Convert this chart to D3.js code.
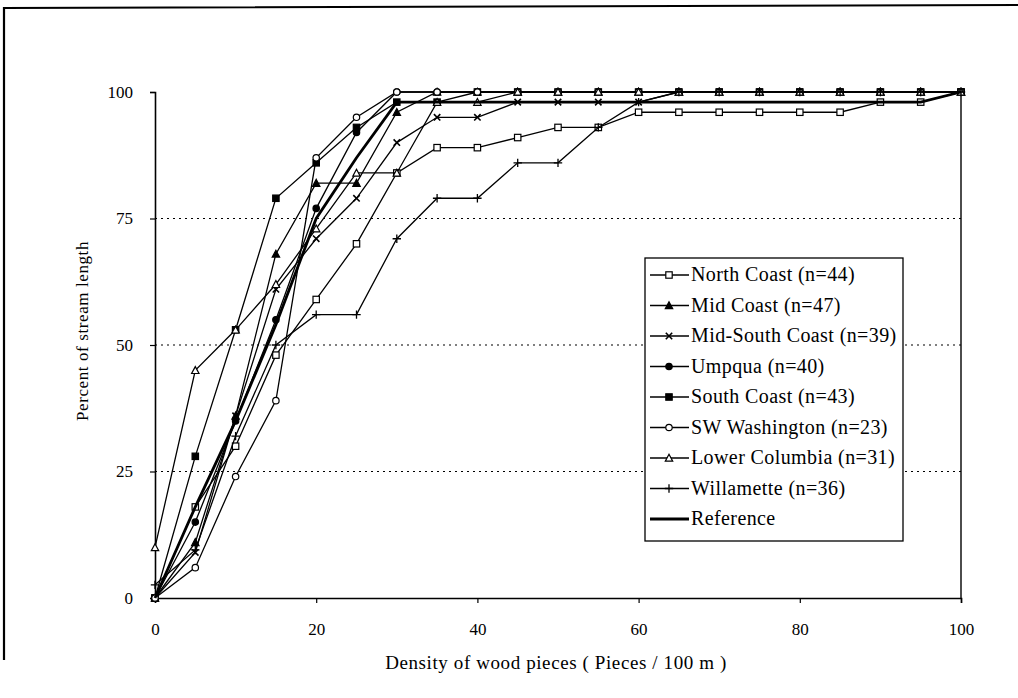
<!DOCTYPE html>
<html>
<head>
<meta charset="utf-8">
<script src="https://cdn.jsdelivr.net/npm/d3@7"></script>
<style>
  body { margin: 0; background: #fff; }
  svg { display: block; }
  text { font-family: "Liberation Serif", "DejaVu Serif", serif; }
</style>
</head>
<body>
<div id="chart"></div>
<script>
// density classes (pieces / 100 m)
const density = [0, 5, 10, 15, 20, 25, 30, 35, 40, 45, 50, 55, 60, 65, 70, 75, 80, 85, 90, 95, 100]

// cumulative percent of stream length
const northCoast    = [0, 18, 30, 48, 59, 70, 84, 89, 89, 91, 93, 93, 96, 96, 96, 96, 96, 96, 98, 98, 100]
const midCoast      = [0, 11, 36, 68, 82, 82, 96, 100, 100, 100, 100, 100, 100, 100, 100, 100, 100, 100, 100, 100, 100]
const midSouthCoast = [0, 9, 36, 61, 71, 79, 90, 95, 95, 98, 98, 98, 98, 100, 100, 100, 100, 100, 100, 100, 100]
const umpqua        = [0, 15, 35, 55, 77, 92, 100, 100, 100, 100, 100, 100, 100, 100, 100, 100, 100, 100, 100, 100, 100]
const southCoast    = [0, 28, 53, 79, 86, 93, 98, 98, 100, 100, 100, 100, 100, 100, 100, 100, 100, 100, 100, 100, 100]
const swWashington  = [0, 6, 24, 39, 87, 95, 100, 100, 100, 100, 100, 100, 100, 100, 100, 100, 100, 100, 100, 100, 100]
const lowerColumbia = [10, 45, 53, 62, 73, 84, 84, 98, 98, 100, 100, 100, 100, 100, 100, 100, 100, 100, 100, 100, 100]
const willamette    = [2.6, 9.5, 32, 50, 56, 56, 71, 79, 79, 86, 86, 93, 98, 100, 100, 100, 100, 100, 100, 100, 100]
const reference     = [0, 18, 35, 54, 75, 87, 98, 98, 98, 98, 98, 98, 98, 98, 98, 98, 98, 98, 98, 98, 100]

const seriesNames = ['North Coast (n=44)', 'Mid Coast (n=47)', 'Mid-South Coast (n=39)', 'Umpqua (n=40)',
  'South Coast (n=43)', 'SW Washington (n=23)', 'Lower Columbia (n=31)', 'Willamette (n=36)', 'Reference']
const seriesValues = [northCoast, midCoast, midSouthCoast, umpqua, southCoast, swWashington, lowerColumbia, willamette, reference]
const seriesMarkers = ['squareOpen', 'triangle', 'cross', 'circle', 'square', 'circleOpen', 'triangleOpen', 'plus', 'none']

const xTicks = [0, 20, 40, 60, 80, 100]
const yTicks = [0, 25, 50, 75, 100]

const width = 1018
const height = 698
const plot = { left: 155, right: 961, top: 92, bottom: 598 }
const serif = '"Liberation Serif", "DejaVu Serif", serif'

const svg = d3.select('#chart').append('svg')
  .attr('width', width)
  .attr('height', height)

const x = d3.scaleLinear().domain([0, 100]).range([plot.left, plot.right])
const y = d3.scaleLinear().domain([0, 100]).range([plot.bottom, plot.top])

// outer chart frame (scanned page edge)
svg.append('path')
  .attr('d', 'M4,660 L4,8 L1018,5')
  .attr('fill', 'none')
  .attr('stroke', '#000')
  .attr('stroke-width', 2.2)

// dotted gridlines
svg.append('g')
  .selectAll('line')
  .data(yTicks.filter(d => d > 0 && d < 100))
  .join('line')
  .attr('x1', plot.left)
  .attr('x2', plot.right)
  .attr('y1', d => y(d))
  .attr('y2', d => y(d))
  .attr('stroke', '#000')
  .attr('stroke-width', 1.2)
  .attr('stroke-dasharray', '2,4')

// plot frame: right edge
svg.append('line')
  .attr('x1', plot.right).attr('x2', plot.right)
  .attr('y1', plot.top).attr('y2', plot.bottom)
  .attr('stroke', '#000').attr('stroke-width', 1.4)

// axes
const xAxis = d3.axisBottom(x).tickValues(xTicks).tickSize(5).tickPadding(20)
const yAxis = d3.axisLeft(y).tickValues(yTicks).tickSize(5).tickPadding(17)

const gx = svg.append('g')
  .attr('transform', `translate(0,${plot.bottom})`)
  .call(xAxis)
const gy = svg.append('g')
  .attr('transform', `translate(${plot.left},0)`)
  .call(yAxis)

;[gx, gy].forEach(g => {
  g.select('.domain').attr('stroke', '#000').attr('stroke-width', 1.6)
  g.selectAll('.tick line').attr('stroke', '#000').attr('stroke-width', 1.2)
  g.selectAll('.tick text')
    .attr('fill', '#000')
    .attr('font-family', serif)
    .attr('font-size', 17)
})

// axis titles
svg.append('text')
  .attr('x', 556)
  .attr('y', 669)
  .attr('text-anchor', 'middle')
  .attr('font-family', serif)
  .attr('font-size', 19)
  .attr('letter-spacing', 0.6)
  .text('Density of wood pieces ( Pieces / 100 m )')

svg.append('text')
  .attr('transform', 'translate(88,331) rotate(-90)')
  .attr('text-anchor', 'middle')
  .attr('font-family', serif)
  .attr('font-size', 17)
  .attr('letter-spacing', 0.6)
  .text('Percent of stream length')

// marker drawing
function drawMarker(g, type, cx, cy) {
  const s = 3.2
  if (type === 'square' || type === 'squareOpen') {
    g.append('rect')
      .attr('x', cx - s).attr('y', cy - s)
      .attr('width', s * 2).attr('height', s * 2)
      .attr('fill', type === 'square' ? '#000' : '#fff')
      .attr('stroke', '#000').attr('stroke-width', 1.2)
  } else if (type === 'triangle' || type === 'triangleOpen') {
    g.append('path')
      .attr('d', `M${cx},${cy - s - 0.5} L${cx + s + 0.5},${cy + s} L${cx - s - 0.5},${cy + s} Z`)
      .attr('fill', type === 'triangle' ? '#000' : '#fff')
      .attr('stroke', '#000').attr('stroke-width', 1.2)
  } else if (type === 'circle' || type === 'circleOpen') {
    g.append('circle')
      .attr('cx', cx).attr('cy', cy).attr('r', s)
      .attr('fill', type === 'circle' ? '#000' : '#fff')
      .attr('stroke', '#000').attr('stroke-width', 1.2)
  } else if (type === 'cross') {
    g.append('path')
      .attr('d', `M${cx - s},${cy - s} L${cx + s},${cy + s} M${cx - s},${cy + s} L${cx + s},${cy - s}`)
      .attr('stroke', '#000').attr('stroke-width', 1.6)
  } else if (type === 'plus') {
    g.append('path')
      .attr('d', `M${cx - s - 1},${cy} L${cx + s + 1},${cy} M${cx},${cy - s - 1} L${cx},${cy + s + 1}`)
      .attr('stroke', '#000').attr('stroke-width', 1.3)
  }
}

const line = d3.line()
  .x(d => x(d[0]))
  .y(d => y(d[1]))

const seriesG = svg.append('g')
seriesValues.forEach((vals, i) => {
  const pts = density.map((d, j) => [d, vals[j]])
  const isRef = seriesMarkers[i] === 'none'
  seriesG.append('path')
    .datum(pts)
    .attr('d', line)
    .attr('fill', 'none')
    .attr('stroke', '#000')
    .attr('stroke-width', isRef ? 2.8 : 1.3)
  if (!isRef) {
    const mg = seriesG.append('g')
    pts.forEach(p => drawMarker(mg, seriesMarkers[i], x(p[0]), y(p[1])))
  }
})

// legend
const legend = svg.append('g')
legend.append('rect')
  .attr('x', 645).attr('y', 258)
  .attr('width', 258).attr('height', 283)
  .attr('fill', '#fff')
  .attr('stroke', '#000')
  .attr('stroke-width', 1.3)

seriesNames.forEach((name, i) => {
  const cy = 275 + i * 30.5
  const isRef = seriesMarkers[i] === 'none'
  legend.append('line')
    .attr('x1', 650).attr('x2', 689)
    .attr('y1', cy).attr('y2', cy)
    .attr('stroke', '#000')
    .attr('stroke-width', isRef ? 2.8 : 1.3)
  if (!isRef) drawMarker(legend, seriesMarkers[i], 669, cy)
  legend.append('text')
    .attr('x', 691)
    .attr('y', cy + 6)
    .attr('font-family', serif)
    .attr('font-size', 20)
    .attr('letter-spacing', 0.4)
    .text(name)
})
</script>
</body>
</html>
